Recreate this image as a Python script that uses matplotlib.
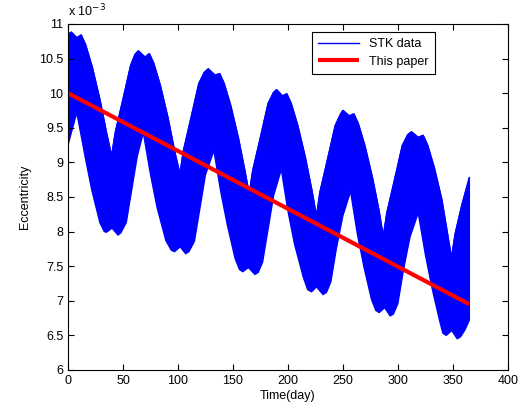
import matplotlib
matplotlib.use("Agg")
import matplotlib.pyplot as plt
import numpy as np

plt.rcParams['font.family'] = ['Liberation Sans', 'DejaVu Sans']

# === upper edge of the STK band (eccentricity in 1e-3) ===
stk_up_day = [0, 3, 8, 12, 16, 22, 29, 35, 39.7,
              43, 50, 57, 61, 64, 70, 74, 78, 84, 91, 97, 101.8,
              105, 112, 119, 124, 127.6, 133.6, 138, 142, 148, 155, 161, 164.8,
              168, 175, 182, 187, 189.7, 195, 199, 203, 209, 216, 222, 226,
              229, 236, 243, 248, 250, 255.8, 260, 264, 270, 277, 283, 286.7,
              290, 297, 304, 309, 312.4, 318.5, 323, 327, 333, 340, 345, 348.8,
              352, 358, 365]
stk_up_ecc = [10.85, 10.88, 10.80, 10.84, 10.70, 10.38, 9.91, 9.43, 9.09,
              9.43, 9.91, 10.40, 10.56, 10.61, 10.52, 10.57, 10.43, 10.11, 9.64, 9.16, 8.83,
              9.17, 9.65, 10.14, 10.30, 10.35, 10.26, 10.28, 10.14, 9.82, 9.35, 8.87, 8.54,
              8.88, 9.36, 9.85, 10.01, 10.05, 9.96, 9.99, 9.85, 9.53, 9.06, 8.58, 8.22,
              8.56, 9.04, 9.53, 9.70, 9.75, 9.67, 9.70, 9.56, 9.24, 8.77, 8.29, 7.93,
              8.27, 8.75, 9.24, 9.40, 9.44, 9.36, 9.39, 9.25, 8.93, 8.46, 7.98, 7.62,
              7.96, 8.37, 8.78]

# === lower edge of the STK band ===
stk_lo_day = [0, 8, 15.5, 21.5, 29, 33, 35, 40, 45.5, 48, 53, 58, 63, 68.5,
              75, 81, 89, 94, 97, 102, 107, 110, 115, 120, 125, 132.7,
              139, 145, 152, 156, 159, 164, 170, 173, 177, 182, 187, 194,
              200, 206, 214, 218, 221.5, 226, 232, 235, 239, 244, 250, 257,
              263, 269, 276, 280, 283, 288, 293, 296, 300, 305, 311, 318.5,
              325, 331, 338, 341, 344, 349, 354, 357, 361, 365]
stk_lo_ecc = [9.25, 9.72, 9.09, 8.61, 8.13, 8.00, 7.99, 8.05, 7.95, 7.98, 8.13, 8.61, 9.09, 9.43,
              8.83, 8.35, 7.87, 7.73, 7.71, 7.78, 7.68, 7.71, 7.86, 8.34, 8.82, 9.17,
              8.57, 8.09, 7.61, 7.45, 7.42, 7.48, 7.38, 7.41, 7.56, 8.04, 8.52, 8.90,
              8.30, 7.82, 7.34, 7.16, 7.13, 7.20, 7.09, 7.12, 7.27, 7.75, 8.23, 8.58,
              7.98, 7.50, 7.02, 6.86, 6.83, 6.90, 6.78, 6.81, 6.96, 7.44, 7.92, 8.27,
              7.67, 7.19, 6.71, 6.53, 6.50, 6.57, 6.45, 6.48, 6.58, 6.72]

# === this paper ===
paper_day = [0, 365]
paper_ecc = [10.0, 6.95]

fig = plt.figure(figsize=(5.23, 4.12), dpi=100)
ax = fig.add_axes([0.130, 0.102, 0.841, 0.840])

band_x = np.r_[stk_up_day, stk_lo_day[::-1]]
band_y = np.r_[stk_up_ecc, stk_lo_ecc[::-1]]
ax.fill(band_x, band_y, color='#0000ff', linewidth=1.0)
ax.plot(stk_up_day, stk_up_ecc, color='#0000ff', linewidth=1.0, label='STK data')
ax.plot(paper_day, paper_ecc, color='#ff0000', linewidth=3, label='This paper',
        solid_capstyle='butt')

ax.set_xlim(0, 400)
ax.set_ylim(6, 11)
ax.set_xticks(np.arange(0, 401, 50))
yt = np.arange(6, 11.01, 0.5)
ax.set_yticks(yt)
ax.set_yticklabels(['%g' % v for v in yt])
ax.tick_params(direction='in', top=True, right=True, labelsize=9, length=4)
for s in ax.spines.values():
    s.set_linewidth(0.8)

ax.set_xlabel('Time(day)', fontsize=9, labelpad=2)
ax.set_ylabel('Eccentricity', fontsize=9, labelpad=6)
ax.text(0.0, 1.012, r'x 10$^{-3}$', transform=ax.transAxes, fontsize=9,
        ha='left', va='bottom')

leg = ax.legend(loc='upper right', bbox_to_anchor=(0.834, 0.977), borderaxespad=0,
                fontsize=9, fancybox=False, edgecolor='black', framealpha=1,
                handlelength=3.3, borderpad=0.5, labelspacing=0.45)
leg.get_frame().set_linewidth(0.8)

plt.savefig('out.png', dpi=100)
